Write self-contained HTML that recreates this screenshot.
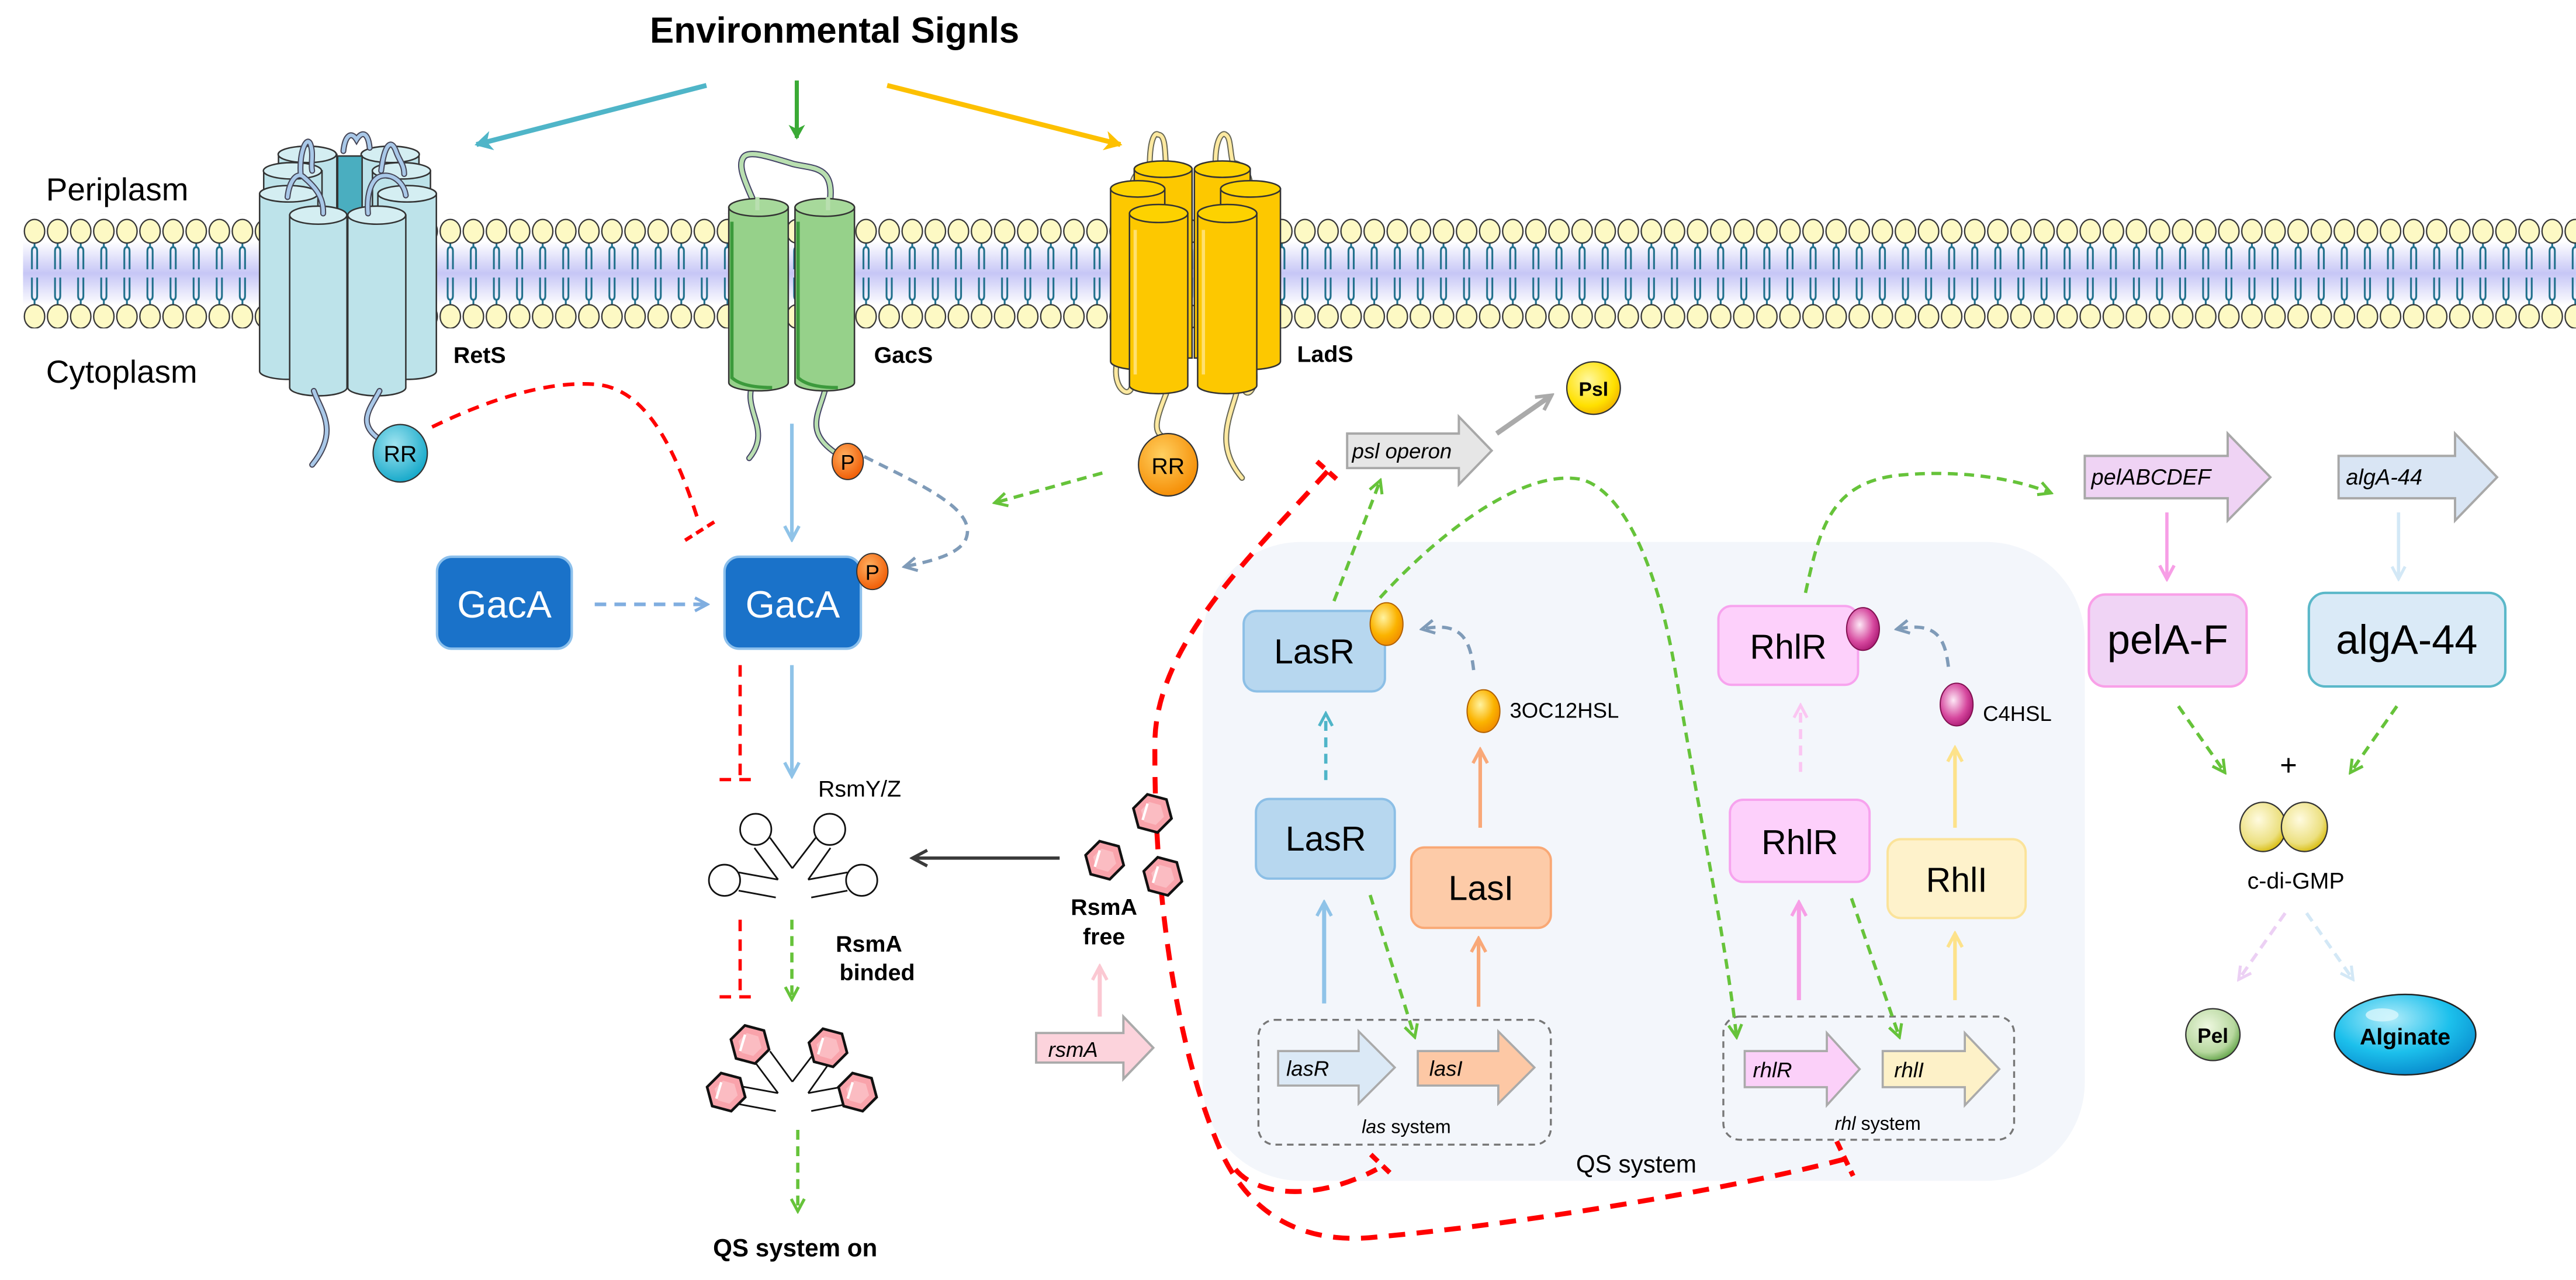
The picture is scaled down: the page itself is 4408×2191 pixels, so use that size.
<!DOCTYPE html>
<html><head><meta charset="utf-8"><style>html,body{margin:0;padding:0;background:#fff}svg{display:block}</style></head>
<body>
<svg xmlns="http://www.w3.org/2000/svg" width="4408" height="2191" viewBox="0 0 1568 779.4" font-family="Liberation Sans, Arial, sans-serif">
<defs>
<linearGradient id="band" x1="0" y1="0" x2="0" y2="1"><stop offset="0" stop-color="#fff"/><stop offset="0.5" stop-color="#c6c6f6"/><stop offset="1" stop-color="#fff"/></linearGradient>
<radialGradient id="gOr" cx="0.4" cy="0.35" r="0.7"><stop offset="0" stop-color="#fff3a0"/><stop offset="0.6" stop-color="#fbb300"/><stop offset="1" stop-color="#f08a00"/></radialGradient>
<radialGradient id="gMg" cx="0.4" cy="0.4" r="0.7"><stop offset="0" stop-color="#fde8f6"/><stop offset="0.6" stop-color="#d6489e"/><stop offset="1" stop-color="#a0106a"/></radialGradient>
<radialGradient id="gP" cx="0.4" cy="0.35" r="0.7"><stop offset="0" stop-color="#ffb060"/><stop offset="1" stop-color="#f05800"/></radialGradient>
<radialGradient id="gRR" cx="0.4" cy="0.35" r="0.7"><stop offset="0" stop-color="#a0e4f0"/><stop offset="1" stop-color="#0fa6c8"/></radialGradient>
<radialGradient id="gRR2" cx="0.4" cy="0.35" r="0.7"><stop offset="0" stop-color="#ffd060"/><stop offset="1" stop-color="#f58a00"/></radialGradient>
<radialGradient id="gY" cx="0.4" cy="0.35" r="0.7"><stop offset="0" stop-color="#fffbe0"/><stop offset="0.7" stop-color="#ece080"/><stop offset="1" stop-color="#d6b800"/></radialGradient>
<radialGradient id="gPsl" cx="0.4" cy="0.35" r="0.7"><stop offset="0" stop-color="#fff8a0"/><stop offset="0.7" stop-color="#ffe000"/><stop offset="1" stop-color="#f0b000"/></radialGradient>
<radialGradient id="gPel" cx="0.4" cy="0.35" r="0.7"><stop offset="0" stop-color="#eef8e0"/><stop offset="0.7" stop-color="#b8d8a0"/><stop offset="1" stop-color="#5aa040"/></radialGradient>
<radialGradient id="gAlg" cx="0.4" cy="0.3" r="0.7"><stop offset="0" stop-color="#b0ecfa"/><stop offset="0.6" stop-color="#1cc0ec"/><stop offset="1" stop-color="#0a90d0"/></radialGradient>
<pattern id="mem" x="14" y="130" width="14.06" height="70" patternUnits="userSpaceOnUse">
<path d="M7 15 V20 M5.4 34 V23 Q5.4 20.5 7 20.5 Q8.6 20.5 8.6 23 V34" stroke="#1f6f8b" stroke-width="1.1" fill="none"/>
<path d="M5.4 39 V50 Q5.4 52.5 7 52.5 Q8.6 52.5 8.6 50 V39 M7 52.5 V56" stroke="#1f6f8b" stroke-width="1.1" fill="none"/>
<ellipse cx="7" cy="10.8" rx="6.2" ry="7.2" fill="#fdf9c4" stroke="#333" stroke-width="0.8"/>
<ellipse cx="7" cy="62.7" rx="6.2" ry="7.2" fill="#fdf9c4" stroke="#333" stroke-width="0.8"/>
</pattern>
<g id="hex"><polygon points="11.6,3.1 3.1,11.6 -8.5,8.5 -11.6,-3.1 -3.1,-11.6 8.5,-8.5" fill="#f9a3ab" stroke="#111" stroke-width="1.6"/><polygon points="7,2 2,7 -5,5 -7,-2 -2,-7 5,-5" fill="#fbbcc2"/><path d="M-6,4 L-3,-6" stroke="#fff" stroke-width="1.5"/></g>
<marker id="aG" viewBox="0 0 10 10" refX="8" refY="5" markerWidth="10" markerHeight="10" markerUnits="userSpaceOnUse" orient="auto"><path d="M1,1 L8.5,5 L1,9" fill="none" stroke="#66c33a" stroke-width="1.8"/></marker>
<marker id="aGB" viewBox="0 0 10 10" refX="8" refY="5" markerWidth="10" markerHeight="10" markerUnits="userSpaceOnUse" orient="auto"><path d="M1,1 L8.5,5 L1,9" fill="none" stroke="#7f9bb8" stroke-width="1.8"/></marker>
<marker id="aB" viewBox="0 0 10 10" refX="8" refY="5" markerWidth="11" markerHeight="11" markerUnits="userSpaceOnUse" orient="auto"><path d="M1,1 L8.5,5 L1,9" fill="none" stroke="#8fc3e8" stroke-width="1.8"/></marker>
<marker id="aBd" viewBox="0 0 10 10" refX="8" refY="5" markerWidth="10" markerHeight="10" markerUnits="userSpaceOnUse" orient="auto"><path d="M1,1 L8.5,5 L1,9" fill="none" stroke="#80aee0" stroke-width="1.8"/></marker>
<marker id="aO" viewBox="0 0 10 10" refX="8" refY="5" markerWidth="11" markerHeight="11" markerUnits="userSpaceOnUse" orient="auto"><path d="M1,1 L8.5,5 L1,9" fill="none" stroke="#f9a878" stroke-width="1.8"/></marker>
<marker id="aPk" viewBox="0 0 10 10" refX="8" refY="5" markerWidth="11" markerHeight="11" markerUnits="userSpaceOnUse" orient="auto"><path d="M1,1 L8.5,5 L1,9" fill="none" stroke="#f79ee6" stroke-width="1.8"/></marker>
<marker id="aPkL" viewBox="0 0 10 10" refX="8" refY="5" markerWidth="10" markerHeight="10" markerUnits="userSpaceOnUse" orient="auto"><path d="M1,1 L8.5,5 L1,9" fill="none" stroke="#fbc6f2" stroke-width="1.8"/></marker>
<marker id="aY" viewBox="0 0 10 10" refX="8" refY="5" markerWidth="11" markerHeight="11" markerUnits="userSpaceOnUse" orient="auto"><path d="M1,1 L8.5,5 L1,9" fill="none" stroke="#fde28a" stroke-width="1.8"/></marker>
<marker id="aT" viewBox="0 0 10 10" refX="8" refY="5" markerWidth="10" markerHeight="10" markerUnits="userSpaceOnUse" orient="auto"><path d="M1,1 L8.5,5 L1,9" fill="none" stroke="#4fb5c8" stroke-width="1.8"/></marker>
<marker id="aR" viewBox="0 0 10 10" refX="8" refY="5" markerWidth="11" markerHeight="11" markerUnits="userSpaceOnUse" orient="auto"><path d="M1,1 L8.5,5 L1,9" fill="none" stroke="#fbc8d2" stroke-width="1.8"/></marker>
<marker id="aK" viewBox="0 0 10 10" refX="8" refY="5" markerWidth="12" markerHeight="12" markerUnits="userSpaceOnUse" orient="auto"><path d="M1,1 L8.5,5 L1,9" fill="none" stroke="#3a3a3a" stroke-width="1.6"/></marker>
<marker id="aGy" viewBox="0 0 10 10" refX="8" refY="5" markerWidth="12" markerHeight="12" markerUnits="userSpaceOnUse" orient="auto"><path d="M1,1 L8.5,5 L1,9" fill="none" stroke="#aaa" stroke-width="1.8"/></marker>
<marker id="aLv" viewBox="0 0 10 10" refX="8" refY="5" markerWidth="10" markerHeight="10" markerUnits="userSpaceOnUse" orient="auto"><path d="M1,1 L8.5,5 L1,9" fill="none" stroke="#ecd0f4" stroke-width="1.8"/></marker>
<marker id="aLb" viewBox="0 0 10 10" refX="8" refY="5" markerWidth="10" markerHeight="10" markerUnits="userSpaceOnUse" orient="auto"><path d="M1,1 L8.5,5 L1,9" fill="none" stroke="#d3e8f6" stroke-width="1.8"/></marker>
<marker id="fT" viewBox="0 0 10 10" refX="8" refY="5" markerWidth="12" markerHeight="12" markerUnits="userSpaceOnUse" orient="auto"><path d="M0,0 L9,5 L0,10 L2.5,5 Z" fill="#4fb5c8"/></marker>
<marker id="fG" viewBox="0 0 10 10" refX="8" refY="5" markerWidth="10" markerHeight="10" markerUnits="userSpaceOnUse" orient="auto"><path d="M0,0 L9,5 L0,10 L2.5,5 Z" fill="#3aaa35"/></marker>
<marker id="fY" viewBox="0 0 10 10" refX="8" refY="5" markerWidth="12" markerHeight="12" markerUnits="userSpaceOnUse" orient="auto"><path d="M0,0 L9,5 L0,10 L2.5,5 Z" fill="#fdc000"/></marker>
</defs>

<!-- Title -->
<text x="508" y="26" font-size="22" font-weight="bold" text-anchor="middle">Environmental Signls</text>
<path d="M430,52 L290,88" stroke="#4fb5c8" stroke-width="3" marker-end="url(#fT)"/>
<path d="M485,49 V84" stroke="#3aaa35" stroke-width="2.5" marker-end="url(#fG)"/>
<path d="M540,52 L682,88" stroke="#fdc000" stroke-width="3" marker-end="url(#fY)"/>

<!-- membrane -->
<rect x="14" y="147" width="1554" height="39" fill="url(#band)"/>
<rect x="14" y="130" width="1554" height="70" fill="url(#mem)"/>
<text x="28" y="122" font-size="19.5">Periplasm</text>
<text x="28" y="233" font-size="19.5">Cytoplasm</text>

<!-- RetS -->
<g stroke="#333" stroke-width="0.9">
<path d="M169.5,94 V220 H205 V94 Z" fill="#bde3ea"/><ellipse cx="187" cy="94" rx="17.7" ry="5" fill="#d4eef2"/>
<path d="M220,94 V220 H255 V94 Z" fill="#bde3ea"/><ellipse cx="237.5" cy="94" rx="17.7" ry="5" fill="#d4eef2"/>
<rect x="205.5" y="95" width="14.9" height="40" fill="#4aaec0"/>
<path d="M160.5,104 V222 H196 V104 Z" fill="#bde3ea"/><ellipse cx="178" cy="104" rx="17.7" ry="5" fill="#d4eef2"/>
<path d="M226.7,104 V222 H262 V104 Z" fill="#bde3ea"/><ellipse cx="244.3" cy="104" rx="17.7" ry="5" fill="#d4eef2"/>
<path d="M158,118 V226 A17.7,5 0 0 0 193.5,226 V118 Z" fill="#bde3ea"/><ellipse cx="175.7" cy="118" rx="17.7" ry="5" fill="#d4eef2"/>
<path d="M230,118 V226 A17.8,5 0 0 0 265.6,226 V118 Z" fill="#bde3ea"/><ellipse cx="247.8" cy="118" rx="17.8" ry="5" fill="#d4eef2"/>
<path d="M176.3,131 V236 A17.4,5 0 0 0 211.2,236 V131 Z" fill="#bde3ea"/><ellipse cx="193.7" cy="131" rx="17.4" ry="5.5" fill="#d4eef2"/>
<path d="M211.7,131 V236 A17.6,5 0 0 0 247,236 V131 Z" fill="#bde3ea"/><ellipse cx="229.3" cy="131" rx="17.6" ry="5.5" fill="#d4eef2"/>
</g>
<g fill="none" stroke-linecap="round">
<g stroke="#445" stroke-width="3.6">
<path d="M183,106 C182,92 187,82 189,88 C191,94 189,100 190,104"/>
<path d="M209,92 C210,82 214,80 217,85 C220,80 224,80 225,90"/>
<path d="M232,104 C234,88 238,84 241,92 C243,98 246,100 246,106"/>
<path d="M175,120 C176,110 181,104 185,108 C192,114 197,120 196.7,130"/>
<path d="M224,130 C223,118 226,108 233,107 C240,106 246,112 247,119"/>
<path d="M191,238 C195,250 207,262 190,283"/>
<path d="M231,238 C226,248 216,258 232,268"/>
</g>
<g stroke="#a9c8e8" stroke-width="2.2">
<path d="M183,106 C182,92 187,82 189,88 C191,94 189,100 190,104"/>
<path d="M209,92 C210,82 214,80 217,85 C220,80 224,80 225,90"/>
<path d="M232,104 C234,88 238,84 241,92 C243,98 246,100 246,106"/>
<path d="M175,120 C176,110 181,104 185,108 C192,114 197,120 196.7,130"/>
<path d="M224,130 C223,118 226,108 233,107 C240,106 246,112 247,119"/>
<path d="M191,238 C195,250 207,262 190,283"/>
<path d="M231,238 C226,248 216,258 232,268"/>
</g></g>
<ellipse cx="243.6" cy="276" rx="16.5" ry="17.5" fill="url(#gRR)" stroke="#333" stroke-width="0.8"/>
<text x="243.6" y="281" font-size="14" text-anchor="middle">RR</text>
<text x="276" y="221" font-size="14" font-weight="bold">RetS</text>

<!-- GacS -->
<g fill="none" stroke-linecap="round">
<path d="M460.8,128 C456,115 448,102 452.6,95.7 C456,91 470,96 482.6,99.8 C495,103 510,100 504.3,128" stroke="#446" stroke-width="4"/>
<path d="M460.8,128 C456,115 448,102 452.6,95.7 C456,91 470,96 482.6,99.8 C495,103 510,100 504.3,128" stroke="#b9dfb0" stroke-width="2.6"/>
<path d="M458,234 C452,250 470,262 456,279" stroke="#446" stroke-width="3.6"/>
<path d="M458,234 C452,250 470,262 456,279" stroke="#b9dfb0" stroke-width="2.2"/>
<path d="M503,234 C500,250 488,262 509,276" stroke="#446" stroke-width="3.6"/>
<path d="M503,234 C500,250 488,262 509,276" stroke="#b9dfb0" stroke-width="2.2"/>
</g>
<g stroke="#333" stroke-width="0.9">
<path d="M443.6,126.3 V233 A18.1,5 0 0 0 479.8,233 V126.3 Z" fill="#96d18a"/>
<path d="M445.5,135 V230 Q452,236 470,236" fill="none" stroke="#3c9a3c" stroke-width="2"/>
<ellipse cx="461.7" cy="126.3" rx="18.1" ry="5.4" fill="#a7d99b"/>
<path d="M483.9,126.3 V233 A18.1,5 0 0 0 520.1,233 V126.3 Z" fill="#96d18a"/>
<path d="M485.8,135 V230 Q492,236 510,236" fill="none" stroke="#3c9a3c" stroke-width="2"/>
<ellipse cx="502" cy="126.3" rx="18.1" ry="5.4" fill="#a7d99b"/>
</g>
<path d="M461,128 V120" stroke="#b9dfb0" stroke-width="2.6"/><path d="M504,128 V120" stroke="#b9dfb0" stroke-width="2.6"/>
<ellipse cx="516" cy="281" rx="9.5" ry="11" fill="url(#gP)" stroke="#333" stroke-width="0.7"/>
<text x="516" y="286" font-size="13" text-anchor="middle">P</text>
<text x="532" y="221" font-size="14" font-weight="bold">GacS</text>

<!-- LadS -->
<g fill="none" stroke-linecap="round">
<g stroke="#665" stroke-width="3.6">
<path d="M700,108 C699,85 703,80 705,82 C710,82 709,95 710,105"/>
<path d="M740,104 C739,85 744,80 746,82 C750,84 748,96 752,103"/>
<path d="M688,120 C688,108 694,100 702,102"/>
<path d="M750,99 C758,100 762,108 761,118"/>
<path d="M712,234 C706,250 700,262 708,266"/>
<path d="M754,234 C750,252 738,270 756,291"/>
<path d="M680,220 C676,238 690,245 689,232"/>
<path d="M762,220 C768,238 756,246 757,232"/>
</g>
<g stroke="#fde9a0" stroke-width="2.2">
<path d="M700,108 C699,85 703,80 705,82 C710,82 709,95 710,105"/>
<path d="M740,104 C739,85 744,80 746,82 C750,84 748,96 752,103"/>
<path d="M688,120 C688,108 694,100 702,102"/>
<path d="M750,99 C758,100 762,108 761,118"/>
<path d="M712,234 C706,250 700,262 708,266"/>
<path d="M754,234 C750,252 738,270 756,291"/>
<path d="M680,220 C676,238 690,245 689,232"/>
<path d="M762,220 C768,238 756,246 757,232"/>
</g></g>
<g stroke="#333" stroke-width="0.9">
<path d="M690.4,103 V218 H725.6 V103 Z" fill="#fdc800"/><ellipse cx="708" cy="103" rx="17.6" ry="5" fill="#fdd200"/>
<path d="M727,103 V218 H761 V103 Z" fill="#fdc800"/><ellipse cx="744" cy="103" rx="17" ry="5" fill="#fdd200"/>
<path d="M676,115 V220 A16.5,5 0 0 0 709,220 V115 Z" fill="#fdc800"/><ellipse cx="692.5" cy="115" rx="16.5" ry="5" fill="#fdd200"/>
<path d="M743,115 V220 A18.2,5 0 0 0 779.4,220 V115 Z" fill="#fdc800"/><ellipse cx="761.2" cy="115" rx="18.2" ry="5" fill="#fdd200"/>
<path d="M687.5,130 V234.7 A17.75,5 0 0 0 723,234.7 V130 Z" fill="#fdc800"/><ellipse cx="705.25" cy="130" rx="17.75" ry="5.5" fill="#fdd200"/>
<path d="M729,130 V234.7 A18,5 0 0 0 765,234.7 V130 Z" fill="#fdc800"/><ellipse cx="747" cy="130" rx="18" ry="5.5" fill="#fdd200"/>
</g>
<path d="M691,140 V228" stroke="#ffe070" stroke-width="2"/><path d="M732.5,140 V228" stroke="#ffe070" stroke-width="2"/>
<ellipse cx="711" cy="283" rx="18" ry="19" fill="url(#gRR2)" stroke="#333" stroke-width="0.8"/>
<text x="711" y="288.5" font-size="14" text-anchor="middle">RR</text>
<text x="789.5" y="220.4" font-size="14" font-weight="bold">LadS</text>

<!-- GacS / GacA connectors -->
<path d="M263,260 C300,242 335,232 362,234 C392,236 410,270 425,317" fill="none" stroke="#f00" stroke-width="2.2" stroke-dasharray="7 5"/>
<path d="M417,329 L436,317" stroke="#f00" stroke-width="2.2" stroke-dasharray="5 3"/>
<path d="M482,258 V328" stroke="#8fc3e8" stroke-width="2.2" marker-end="url(#aB)"/>
<path d="M526,278 C560,295 595,310 588,328 C584,338 565,342 551,345" fill="none" stroke="#7f9bb8" stroke-width="2" stroke-dasharray="6 4" marker-end="url(#aGB)"/>
<path d="M671,288 L606,306" stroke="#66c33a" stroke-width="2" stroke-dasharray="6 4" marker-end="url(#aG)"/>

<!-- GacA -->
<rect x="266" y="339" width="82" height="56" rx="9" fill="#1a72c9" stroke="#8cc0ec" stroke-width="1.5"/>
<text x="307" y="376" font-size="23" fill="#fff" text-anchor="middle">GacA</text>
<rect x="441" y="339" width="83" height="56" rx="9" fill="#1a72c9" stroke="#8cc0ec" stroke-width="1.5"/>
<text x="482.5" y="376" font-size="23" fill="#fff" text-anchor="middle">GacA</text>
<path d="M362,368 H430" stroke="#80aee0" stroke-width="2.2" stroke-dasharray="7 5" marker-end="url(#aBd)"/>
<ellipse cx="531" cy="348" rx="9.5" ry="11" fill="url(#gP)" stroke="#333" stroke-width="0.7"/>
<text x="531" y="353" font-size="13" text-anchor="middle">P</text>

<!-- Rsm region -->
<path d="M450.5,405 V474 M438,474.7 H459" fill="none" stroke="#f00" stroke-width="2" stroke-dasharray="7 5"/>
<path d="M482,405 V472" stroke="#8fc3e8" stroke-width="2.2" marker-end="url(#aB)"/>
<text x="498" y="485" font-size="14">RsmY/Z</text>
<g fill="#fff" stroke="#111" stroke-width="1">
<circle cx="460" cy="505" r="9.5"/><circle cx="505" cy="505" r="9.5"/><circle cx="441" cy="536" r="9.5"/><circle cx="524.5" cy="536" r="9.5"/>
</g>
<g stroke="#111" stroke-width="1" fill="none">
<path d="M482.3,528.7 L468.7,510.1 M482.3,528.7 L496.5,510.1 M473.6,535.6 L459.2,516.3 M491.9,535.6 L505.5,516.3 M473.6,535.6 L449.6,531.2 M491.9,535.6 L515.8,531.2 M472.2,546.5 L449.6,542.3 M493.8,546.5 L515.8,542.3"/>
</g>
<path d="M450.5,560 V607 M438,607 H459" fill="none" stroke="#f00" stroke-width="2" stroke-dasharray="7 5"/>
<path d="M482,560 V608" stroke="#66c33a" stroke-width="2" stroke-dasharray="6 4" marker-end="url(#aG)"/>
<text x="508.7" y="579.5" font-size="14" font-weight="bold">RsmA</text>
<text x="511" y="597" font-size="14" font-weight="bold">binded</text>
<g stroke="#111" stroke-width="1" fill="none">
<path d="M482.3,658.7 L468.7,640.1 M482.3,658.7 L496.5,640.1 M473.6,665.6 L459.2,646.3 M491.9,665.6 L505.5,646.3 M473.6,665.6 L449.6,661.2 M491.9,665.6 L515.8,661.2 M472.2,676.5 L449.6,672.3 M493.8,676.5 L515.8,672.3"/>
</g>
<use href="#hex" transform="translate(456.5,636)"/><use href="#hex" transform="translate(504,638)"/>
<use href="#hex" transform="translate(442,665)"/><use href="#hex" transform="translate(522,665)"/>
<path d="M485.6,688 V737" stroke="#66c33a" stroke-width="2" stroke-dasharray="6 4" marker-end="url(#aG)"/>
<text x="434" y="765" font-size="15" font-weight="bold">QS system on</text>
<path d="M645,522.5 H556" stroke="#3a3a3a" stroke-width="2" marker-end="url(#aK)"/>

<!-- QS box -->
<rect x="732" y="330" width="537" height="389" rx="60" fill="#f3f6fb"/>

<!-- red big dashed -->
<path d="M808,287 C765,335 705,390 703,450 C702,540 715,640 745,705 C765,745 800,758 840,753 C920,746 1050,725 1122,706" fill="none" stroke="#f00" stroke-width="3" stroke-dasharray="10 7"/>
<path d="M801.6,281 L815,293" stroke="#f00" stroke-width="3" stroke-dasharray="6 4"/>
<path d="M1118,695 L1128,716" stroke="#f00" stroke-width="3" stroke-dasharray="6 4"/>
<path d="M752,712 C765,728 800,732 838,712" fill="none" stroke="#f00" stroke-width="3" stroke-dasharray="10 7"/>
<path d="M834.4,703 L848,716" stroke="#f00" stroke-width="3" stroke-dasharray="6 4"/>

<use href="#hex" transform="translate(672.4,523.8)"/><use href="#hex" transform="translate(701.5,495.3)"/><use href="#hex" transform="translate(707.8,533.6)"/>
<text x="672" y="557" font-size="14" font-weight="bold" text-anchor="middle">RsmA</text>
<text x="672" y="575" font-size="14" font-weight="bold" text-anchor="middle">free</text>
<path d="M669.4,619 V589" stroke="#fbc8d2" stroke-width="2.5" marker-end="url(#aR)"/>
<polygon points="630.7,629 683.8,629 683.8,619 702,638 683.8,657 683.8,647 630.7,647" fill="#fcd3dc" stroke="#aaa" stroke-width="1.4"/>
<text x="638" y="643.5" font-size="13" font-style="italic">rsmA</text>

<!-- psl -->
<polygon points="820,264 888,264 888,253.7 908,274.4 888,295 888,285 820,285" fill="#e6e6e6" stroke="#a8a8a8" stroke-width="1.4"/>
<text x="823" y="279" font-size="13" font-style="italic">psl operon</text>
<path d="M911,264 L944,241" stroke="#aaa" stroke-width="3" marker-end="url(#aGy)"/>
<ellipse cx="970" cy="236.3" rx="16.3" ry="16" fill="url(#gPsl)" stroke="#333" stroke-width="0.8"/>
<text x="970" y="241" font-size="12" font-weight="bold" text-anchor="middle">Psl</text>

<!-- QS contents -->
<rect x="757" y="372" width="86" height="49" rx="8" fill="#b7d7ef" stroke="#8cbfe6" stroke-width="1.4"/>
<text x="800" y="404" font-size="21" text-anchor="middle">LasR</text>
<ellipse cx="844" cy="380" rx="10" ry="13" fill="url(#gOr)" stroke="#b06000" stroke-width="0.7"/>
<rect x="764.5" y="486.5" width="84.5" height="48.5" rx="8" fill="#b7d7ef" stroke="#8cbfe6" stroke-width="1.4"/>
<text x="807" y="518" font-size="21" text-anchor="middle">LasR</text>
<rect x="859" y="516" width="85" height="49" rx="8" fill="#fdcba8" stroke="#f9a875" stroke-width="1.4"/>
<text x="901.5" y="548" font-size="21" text-anchor="middle">LasI</text>
<ellipse cx="903" cy="433" rx="10" ry="13" fill="url(#gOr)" stroke="#b06000" stroke-width="0.7"/>
<text x="919" y="437" font-size="13">3OC12HSL</text>
<path d="M897,408 C895,390 890,378 866,383" fill="none" stroke="#7f9bb8" stroke-width="2" stroke-dasharray="6 4" marker-end="url(#aGB)"/>
<path d="M807,475 V435" stroke="#4fb5c8" stroke-width="2" stroke-dasharray="6 4" marker-end="url(#aT)"/>
<path d="M901,504 V457" stroke="#f9a878" stroke-width="2.2" marker-end="url(#aO)"/>
<path d="M806,611 V550" stroke="#8fc3e8" stroke-width="2.5" marker-end="url(#aB)"/>
<path d="M900,613 V572" stroke="#f9a878" stroke-width="2.2" marker-end="url(#aO)"/>

<rect x="1046" y="369" width="85" height="48" rx="8" fill="#fdd0fb" stroke="#f7a3ee" stroke-width="1.4"/>
<text x="1088.5" y="401" font-size="21" text-anchor="middle">RhlR</text>
<ellipse cx="1134" cy="383" rx="10" ry="13" fill="url(#gMg)" stroke="#801050" stroke-width="0.7"/>
<rect x="1053" y="487" width="85" height="50" rx="8" fill="#fdd0fb" stroke="#f7a3ee" stroke-width="1.4"/>
<text x="1095.5" y="520" font-size="21" text-anchor="middle">RhlR</text>
<rect x="1149" y="511" width="84" height="48" rx="8" fill="#fef2cb" stroke="#fbe39a" stroke-width="1.4"/>
<text x="1191" y="543" font-size="21" text-anchor="middle">RhlI</text>
<ellipse cx="1191" cy="429" rx="10" ry="13" fill="url(#gMg)" stroke="#801050" stroke-width="0.7"/>
<text x="1207" y="439" font-size="13">C4HSL</text>
<path d="M1186,406 C1184,390 1180,378 1155,383" fill="none" stroke="#7f9bb8" stroke-width="2" stroke-dasharray="6 4" marker-end="url(#aGB)"/>
<path d="M1096,470 V430" stroke="#fbc6f2" stroke-width="2" stroke-dasharray="6 4" marker-end="url(#aPkL)"/>
<path d="M1190,504 V456" stroke="#fde28a" stroke-width="2.2" marker-end="url(#aY)"/>
<path d="M1095,609 V550" stroke="#f79ee6" stroke-width="2.5" marker-end="url(#aPk)"/>
<path d="M1190,609 V569" stroke="#fde28a" stroke-width="2.2" marker-end="url(#aY)"/>

<rect x="766" y="621" width="178" height="76" rx="10" fill="none" stroke="#777" stroke-width="1.2" stroke-dasharray="4 3"/>
<polygon points="778,640 827,640 827,628 849,650 827,672 827,661 778,661" fill="#dbe9f6" stroke="#aaa" stroke-width="1.3"/>
<text x="783" y="655" font-size="13" font-style="italic">lasR</text>
<polygon points="863,640 912,640 912,628 934,650 912,672 912,661 863,661" fill="#fdc8a5" stroke="#aaa" stroke-width="1.3"/>
<text x="870" y="655" font-size="13" font-style="italic">lasI</text>
<text x="856" y="690" font-size="11.5" text-anchor="middle"><tspan font-style="italic">las</tspan> system</text>

<rect x="1049" y="619" width="177" height="75" rx="10" fill="none" stroke="#777" stroke-width="1.2" stroke-dasharray="4 3"/>
<polygon points="1062,640 1112,640 1112,629 1132,651 1112,673 1112,662 1062,662" fill="#fbd0f9" stroke="#aaa" stroke-width="1.3"/>
<text x="1067" y="656" font-size="13" font-style="italic">rhlR</text>
<polygon points="1146,640 1196,640 1196,629 1217,651 1196,673 1196,662 1146,662" fill="#fdf1c8" stroke="#aaa" stroke-width="1.3"/>
<text x="1153" y="656" font-size="13" font-style="italic">rhlI</text>
<text x="1143" y="688" font-size="11.5" text-anchor="middle"><tspan font-style="italic">rhl</tspan> system</text>
<text x="996" y="714" font-size="15" text-anchor="middle">QS system</text>

<!-- green dashed long -->
<g fill="none" stroke="#66c33a" stroke-width="2" stroke-dasharray="6 4">
<path d="M812,366 L840,293" marker-end="url(#aG)"/>
<path d="M840,364 C880,320 930,285 963,292 C990,300 1010,350 1020,410 C1035,500 1050,570 1057,631" marker-end="url(#aG)"/>
<path d="M1099,361 C1108,320 1115,292 1160,289 C1200,286 1230,293 1248,300" marker-end="url(#aG)"/>
<path d="M834,545 L861,631" marker-end="url(#aG)"/>
<path d="M1127,547 L1156,631" marker-end="url(#aG)"/>
</g>

<!-- right -->
<polygon points="1269,277.6 1356,277.6 1356,264 1382,290.6 1356,317 1356,303.4 1269,303.4" fill="#efd3f4" stroke="#a8a8a8" stroke-width="1.4"/>
<text x="1273" y="295" font-size="13.5" font-style="italic">pelABCDEF</text>
<polygon points="1423.5,277.6 1494.4,277.6 1494.4,264 1520,290.6 1494.4,317 1494.4,303.4 1423.5,303.4" fill="#d9e5f4" stroke="#a8a8a8" stroke-width="1.4"/>
<text x="1428" y="295" font-size="13.5" font-style="italic">algA-44</text>
<path d="M1319,312 V352" stroke="#f79ee6" stroke-width="2" marker-end="url(#aPk)"/>
<path d="M1460,312 V352" stroke="#d3e8f6" stroke-width="2" marker-end="url(#aLb)"/>
<rect x="1271.5" y="362" width="96" height="56" rx="10" fill="#f0d4f5" stroke="#f9a0e8" stroke-width="1.5"/>
<text x="1319.5" y="398" font-size="25" text-anchor="middle">pelA-F</text>
<rect x="1405.4" y="361" width="119.6" height="57" rx="10" fill="#daeaf7" stroke="#5bb8c9" stroke-width="1.5"/>
<text x="1465" y="398" font-size="25" text-anchor="middle">algA-44</text>
<path d="M1326,430 L1354,470" stroke="#66c33a" stroke-width="2" stroke-dasharray="6 4" marker-end="url(#aG)"/>
<path d="M1459,430 L1431,470" stroke="#66c33a" stroke-width="2" stroke-dasharray="6 4" marker-end="url(#aG)"/>
<text x="1393" y="472" font-size="18" text-anchor="middle">+</text>
<ellipse cx="1377.5" cy="503.5" rx="14" ry="15" fill="url(#gY)" stroke="#333" stroke-width="0.8"/>
<ellipse cx="1402.7" cy="503.5" rx="14" ry="15" fill="url(#gY)" stroke="#333" stroke-width="0.8"/>
<text x="1397.5" y="541" font-size="14" text-anchor="middle">c-di-GMP</text>
<path d="M1391,556 L1363,596" stroke="#ecd0f4" stroke-width="2" stroke-dasharray="6 4" marker-end="url(#aLv)"/>
<path d="M1404,556 L1432,596" stroke="#d3e8f6" stroke-width="2" stroke-dasharray="6 4" marker-end="url(#aLb)"/>
<ellipse cx="1347" cy="630" rx="16.5" ry="15.8" fill="url(#gPel)" stroke="#333" stroke-width="0.8"/>
<text x="1347" y="635" font-size="12.5" font-weight="bold" text-anchor="middle">Pel</text>
<ellipse cx="1464" cy="630" rx="43" ry="24.5" fill="url(#gAlg)" stroke="#222" stroke-width="0.9"/>
<ellipse cx="1450" cy="618" rx="10" ry="4" fill="#d8f6fd" opacity="0.8"/>
<text x="1464" y="636" font-size="14" font-weight="bold" text-anchor="middle">Alginate</text>
</svg>
</body></html>
